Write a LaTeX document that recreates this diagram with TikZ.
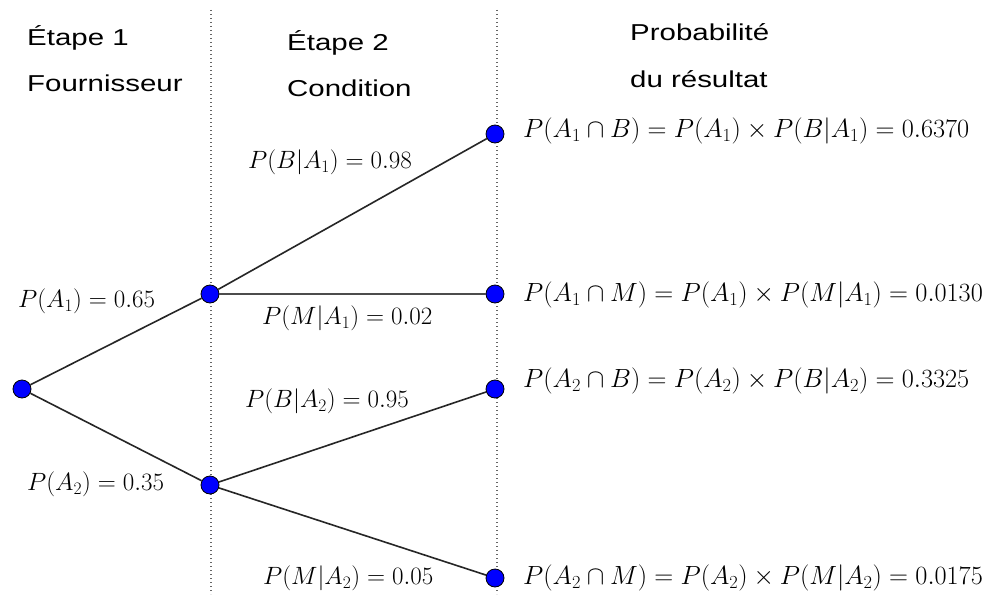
\documentclass[tikz,border=0pt]{standalone}
\usepackage{fix-cm}
\usepackage{fontspec}
\setmainfont{Liberation Sans}
\begin{document}
\begin{tikzpicture}[x=1pt,y=-1pt,
  dot/.style={circle,fill=blue,draw=black,line width=0.8pt,inner sep=0pt,minimum size=18pt},
  branch/.style={draw=black!85,line width=1.6pt},
  sep/.style={draw=black!60,line width=1.6pt,dash pattern=on 1.4pt off 2.6pt},
  head/.style={anchor=base west,inner sep=0pt,font=\fontsize{23}{28}\selectfont},
  lab/.style={anchor=west,inner sep=0pt,font=\fontsize{25}{28}\selectfont},
  res/.style={anchor=west,inner sep=0pt,font=\fontsize{26.3}{30}\selectfont}]
\useasboundingbox (0,0) rectangle (990,594);
\fill[white] (0,0) rectangle (990,594);
% separators
\coordinate (s1t) at (211,10); \coordinate (s1b) at (211,594);
\coordinate (s2t) at (497,10); \coordinate (s2b) at (497,594);
\draw[sep] (s1t) -- (s1b);
\draw[sep] (s2t) -- (s2b);
% headers
\node[head] (h1a) at (27,46) {\scalebox{1.28}[1]{Étape 1}};
\node[head] (h1b) at (27,91) {\scalebox{1.28}[1]{Fournisseur}};
\node[head] (h2a) at (287,51) {\scalebox{1.28}[1]{Étape 2}};
\node[head] (h2b) at (287,96) {\scalebox{1.28}[1]{Condition}};
\node[head] (h3a) at (630,41) {\scalebox{1.28}[1]{Probabilité}};
\node[head] (h3b) at (630,87) {\scalebox{1.28}[1]{du résultat}};
% tree nodes
\node[dot] (r) at (22,389) {};
\node[dot] (a1) at (210,294) {};
\node[dot] (a2) at (210,485) {};
\node[dot] (l1) at (495,134) {};
\node[dot] (l2) at (495,294) {};
\node[dot] (l3) at (495,389) {};
\node[dot] (l4) at (495,578) {};
% branches
\draw[branch] (r) -- (a1);
\draw[branch] (r) -- (a2);
\draw[branch] (a1) -- (l1);
\draw[branch,draw=black!70,line width=2pt] (a1) -- (l2);
\draw[branch] (a2) -- (l3);
\draw[branch] (a2) -- (l4);
% branch labels
\node[lab] (pa1) at (18,301) {$P(A_1)=0.65$};
\node[lab] (pa2) at (27,484) {$P(A_2)=0.35$};
\node[lab] (pb1) at (248,162) {$P(B|A_1)=0.98$};
\node[lab] (pm1) at (262,318) {$P(M|A_1)=0.02$};
\node[lab] (pb2) at (245,401) {$P(B|A_2)=0.95$};
\node[lab] (pm2) at (263,578) {$P(M|A_2)=0.05$};
% result labels
\node[res] (r1) at (523,131) {$P(A_1\cap B)=P(A_1)\times P(B|A_1)=0.6370$};
\node[res] (r2) at (523,295) {$P(A_1\cap M)=P(A_1)\times P(M|A_1)=0.0130$};
\node[res] (r3) at (523,381) {$P(A_2\cap B)=P(A_2)\times P(B|A_2)=0.3325$};
\node[res] (r4) at (523,578) {$P(A_2\cap M)=P(A_2)\times P(M|A_2)=0.0175$};
\end{tikzpicture}
\end{document}
